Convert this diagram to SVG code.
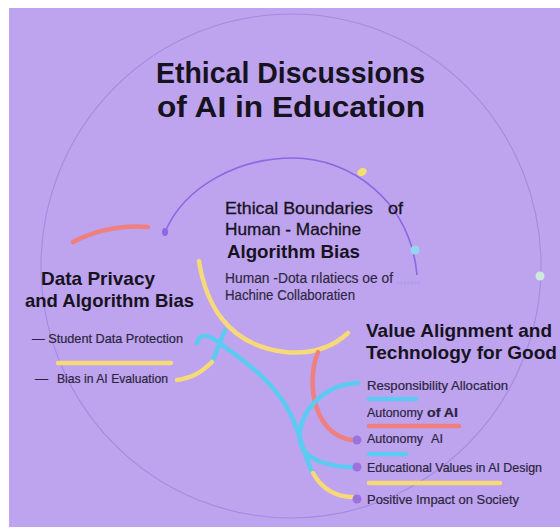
<svg xmlns="http://www.w3.org/2000/svg" width="560" height="529" viewBox="0 0 560 529">
<style>
.t{font-family:"Liberation Sans",Arial,sans-serif;fill:#16131f}
.h1{font-size:30px;font-weight:bold}
.h2{font-size:19px;font-weight:bold}
.med{font-size:16.5px;stroke:#16131f;stroke-width:0.3}
.sub{font-size:14px;fill:#2c2740;stroke:#2c2740;stroke-width:0.15}
.li{font-size:13px;fill:#2a2540;stroke:#2a2540;stroke-width:0.2}
.c{fill:none;stroke-linecap:round;stroke-width:4.5}
.y{stroke:#f6d978}
.b{stroke:#5ccbf2}
.r{stroke:#f07f80}
.dot{fill:#9c72de}
</style>
<rect x="0" y="0" width="560" height="529" fill="#ffffff"/>
<rect x="9" y="8" width="551" height="519" fill="#bea3ee"/>
<g id="frame">
<ellipse cx="291" cy="266" rx="250" ry="252" fill="none" stroke="#a58ae0" stroke-width="1.1"/>
<path d="M165,232 C185,185 240,158 293,158 C350,158 410,200 417,275" fill="none" stroke="#8b68e2" stroke-width="1.6"/>
<path d="M397,283 L420,283" stroke="#ad9fee" stroke-width="3" stroke-dasharray="2 1.5"/>
<ellipse cx="165" cy="232" rx="3" ry="4" fill="#8d68e3"/>
<ellipse cx="362" cy="172" rx="5" ry="3.8" transform="rotate(-30 362 172)" fill="#f7de70"/>
<circle cx="415" cy="250" r="4.5" fill="#93d6ee"/>
<circle cx="540" cy="276" r="4.5" fill="#cdebdc"/>
</g>
<g id="title">
<text class="t h1" x="156" y="83" textLength="269" lengthAdjust="spacingAndGlyphs">Ethical Discussions</text>
<text class="t h1" x="157" y="117" textLength="268" lengthAdjust="spacingAndGlyphs">of AI in Education</text>
</g>
<g id="connectors">
<path class="c r" d="M73,242 Q108,224 148,227"/>
<path class="c y" d="M199,261 C205,300 225,345 285,352 C315,355 335,345 348,333"/>
<path class="c r" d="M318,352 C305,385 315,435 352,440"/>
<path class="c b" d="M358,383 C320,385 298,415 300,440 C302,460 330,467 353,467"/>
<path class="c b" d="M197,343 C199,335 206,333 215,340 C240,358 272,378 290,413 C303,440 305,460 313,473"/>
<path class="c y" d="M313,473 C322,490 338,497 352,497"/>
<path class="c b" d="M225,330 Q218,348 212,362"/>
<path class="c y" d="M212,362 C200,374 190,378 177,380"/>
</g>
<g id="node-center">
<text class="t med" y="214"><tspan x="225" textLength="148" lengthAdjust="spacingAndGlyphs">Ethical Boundaries</tspan><tspan x="388" textLength="15" lengthAdjust="spacingAndGlyphs">of</tspan></text>
<text class="t med" x="225" y="235" textLength="136" lengthAdjust="spacingAndGlyphs">Human - Machine</text>
<text class="t h2" x="227" y="258" textLength="133" lengthAdjust="spacingAndGlyphs">Algorithm Bias</text>
<text class="t sub" x="225" y="283" textLength="168" lengthAdjust="spacingAndGlyphs">Human -Dota rılatiecs oe of</text>
<text class="t sub" x="225" y="300" textLength="130" lengthAdjust="spacingAndGlyphs">Hachine Collaboratien</text>
</g>
<g id="node-left">
<text class="t h2" x="41" y="285" textLength="114" lengthAdjust="spacingAndGlyphs">Data Privacy</text>
<text class="t h2" x="25" y="307" textLength="169" lengthAdjust="spacingAndGlyphs">and Algorithm Bias</text>
<text class="t li" x="32" y="343" textLength="151" lengthAdjust="spacingAndGlyphs">— Student Data Protection</text>
<path class="c y" d="M58,363 L171,363" stroke-width="4"/>
<text class="t li" x="35" y="383">—</text>
<text class="t li" x="57" y="383" textLength="111" lengthAdjust="spacingAndGlyphs">Bias in AI Evaluation</text>
</g>
<g id="node-right">
<text class="t h2" x="366" y="337" textLength="186" lengthAdjust="spacingAndGlyphs">Value Alignment and</text>
<text class="t h2" x="366" y="359" textLength="191" lengthAdjust="spacingAndGlyphs">Technology for Good</text>
<text class="t li" x="367" y="390" textLength="141" lengthAdjust="spacingAndGlyphs">Responsibility Allocation</text>
<path class="c b" d="M369,399 L416,399" stroke-width="4"/>
<text class="t li" y="417"><tspan x="367" textLength="56" lengthAdjust="spacingAndGlyphs">Autonomy</tspan><tspan x="427" textLength="31" lengthAdjust="spacingAndGlyphs" font-weight="bold">of AI</tspan></text>
<path class="c r" d="M369,426 L459,426" stroke-width="4"/>
<circle class="dot" cx="357" cy="440" r="4.5"/>
<text class="t li" y="443"><tspan x="367" textLength="56" lengthAdjust="spacingAndGlyphs">Autonomy</tspan><tspan x="431" textLength="12" lengthAdjust="spacingAndGlyphs">AI</tspan></text>
<path class="c b" d="M369,454 L406,454" stroke-width="4"/>
<circle class="dot" cx="357" cy="467" r="4.5"/>
<text class="t li" x="367" y="472" textLength="175" lengthAdjust="spacingAndGlyphs">Educational Values in AI Design</text>
<path class="c y" d="M369,483 L500,483" stroke-width="4"/>
<circle class="dot" cx="357" cy="499" r="4.5"/>
<text class="t li" x="367" y="504" textLength="152" lengthAdjust="spacingAndGlyphs">Positive Impact on Society</text>
</g>
</svg>
